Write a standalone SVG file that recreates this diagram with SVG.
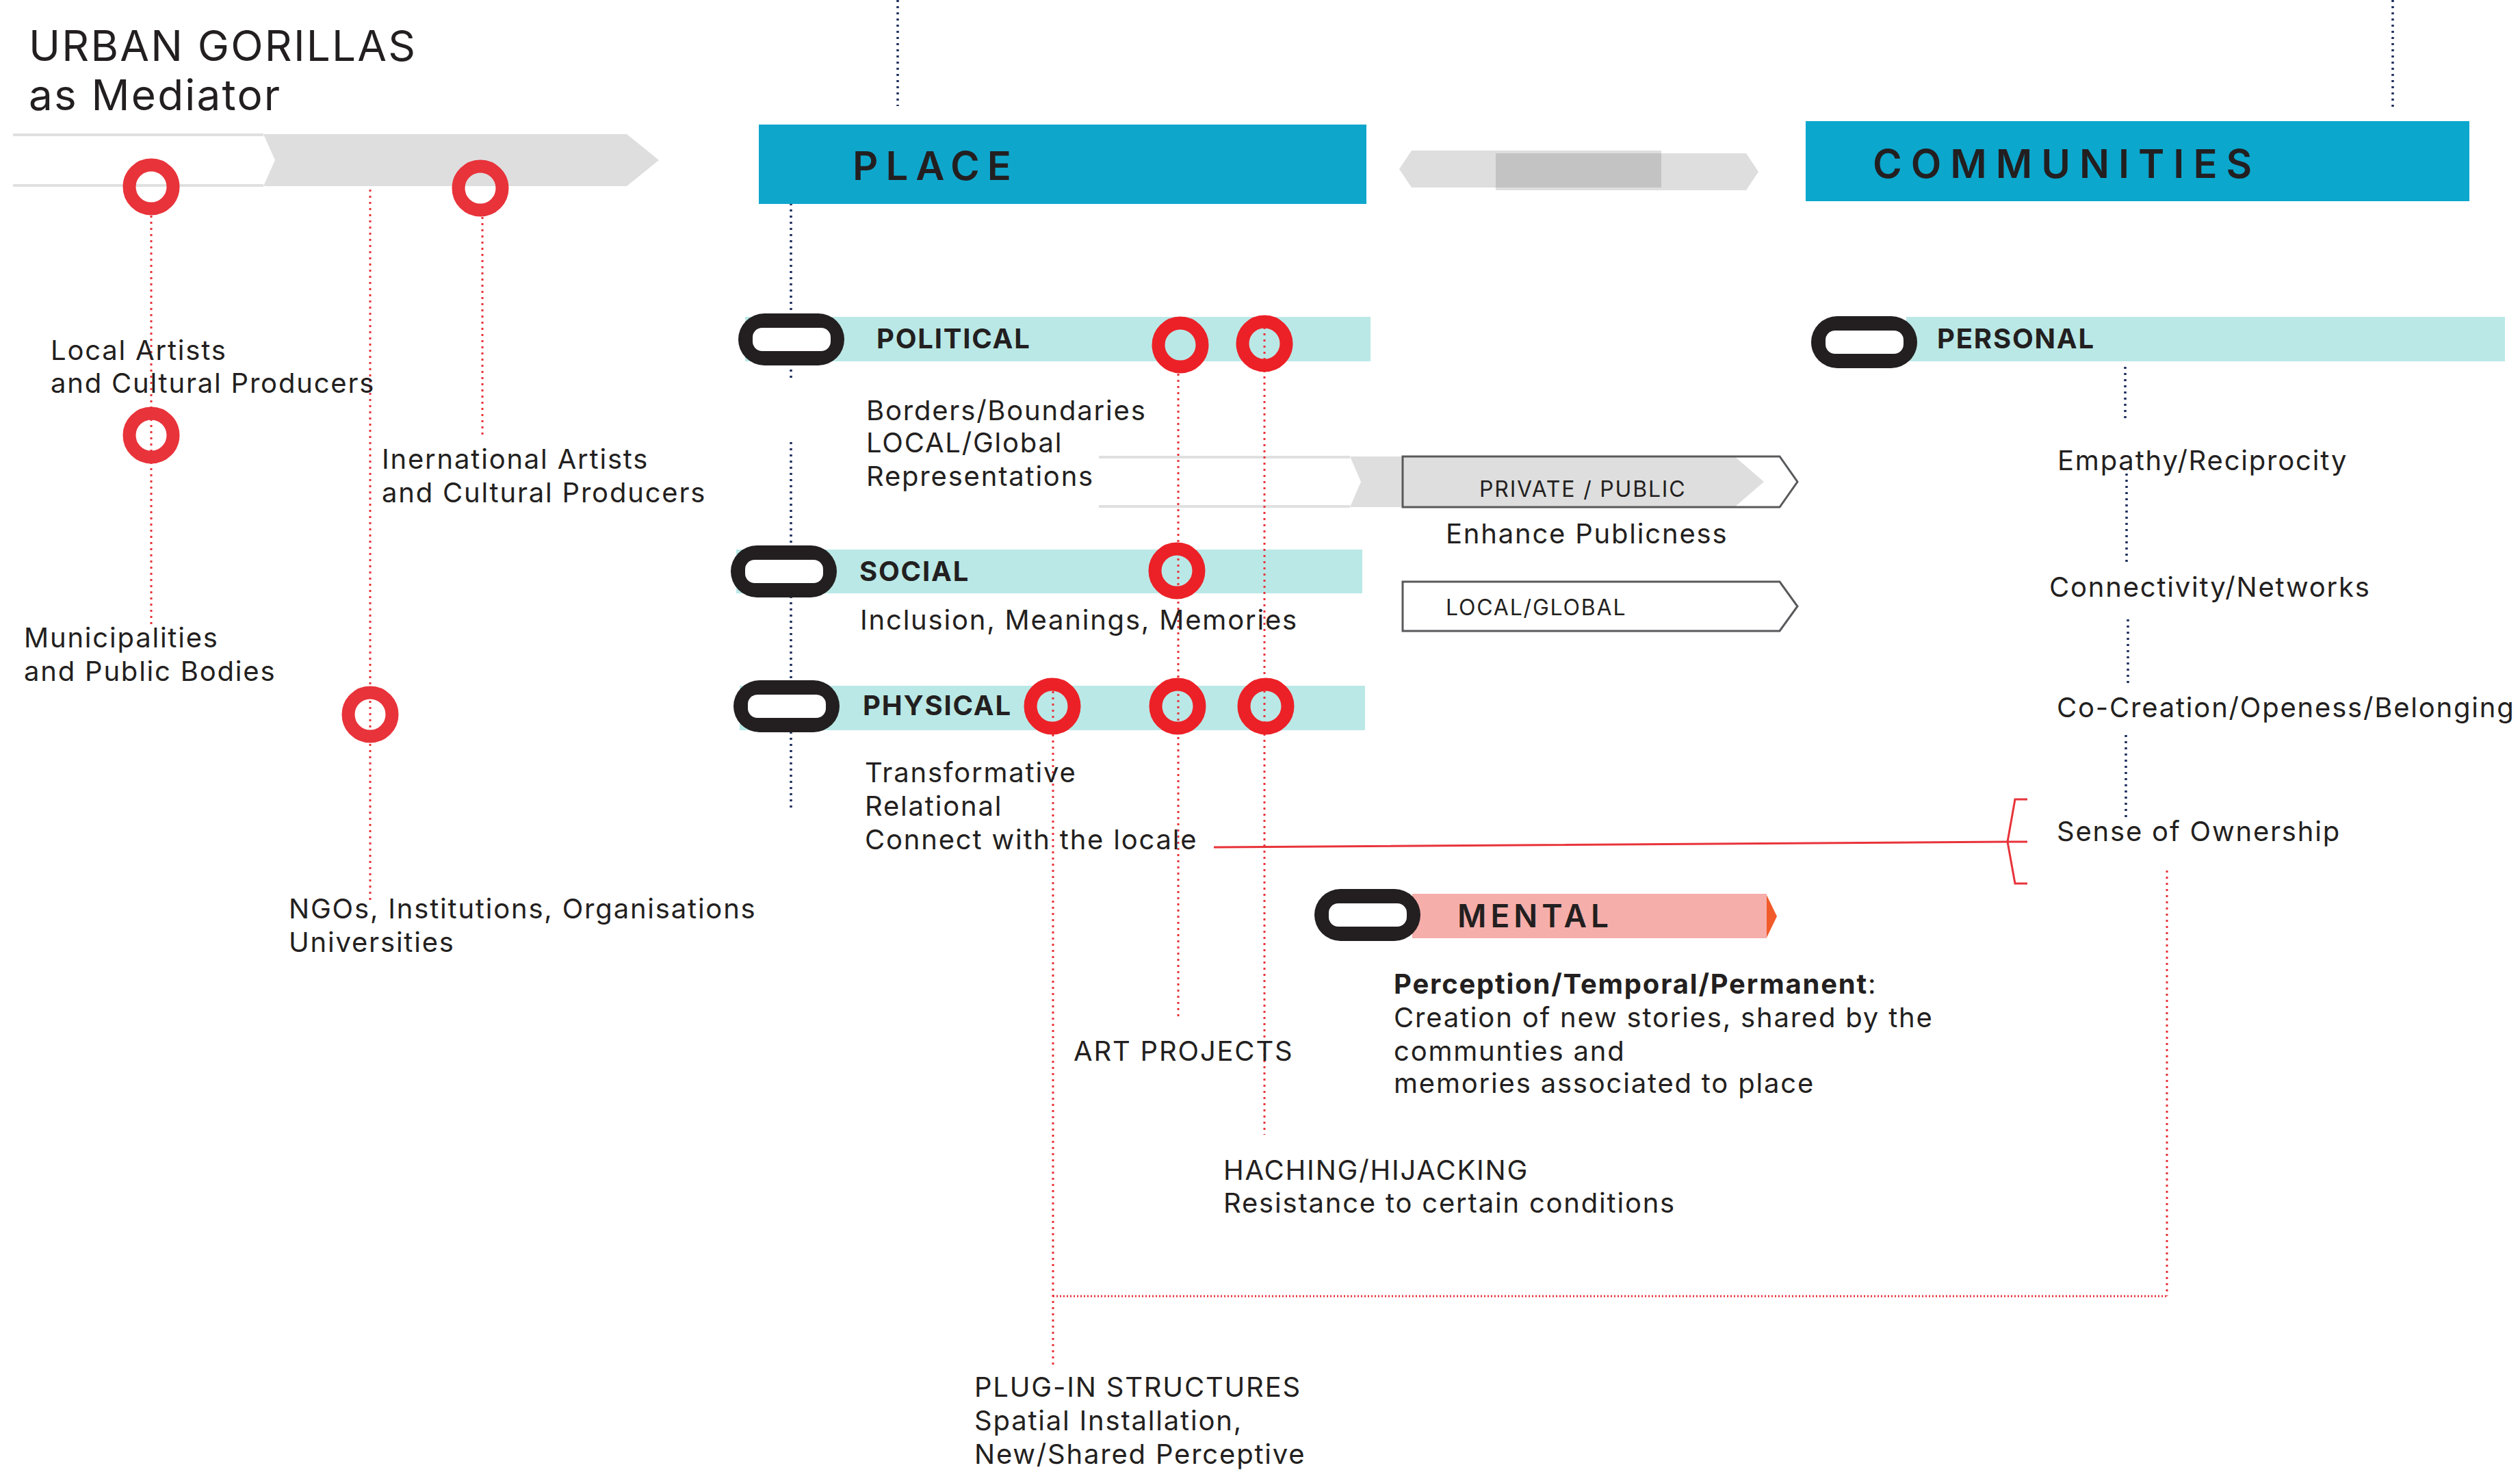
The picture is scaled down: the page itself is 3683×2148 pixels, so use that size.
<svg xmlns="http://www.w3.org/2000/svg" width="3683" height="2148" viewBox="0 0 3683 2148">
<style>
.t{font-family:Inter,"Noto Sans",sans-serif;font-size:40px;fill:#231f20;letter-spacing:1.8px}
.s{font-size:32px}
.h{font-weight:700;letter-spacing:1.8px}
.big{font-size:58px;font-weight:600;letter-spacing:11px}
.bar{fill:#bae8e6}
.rd{stroke:#e8333a;stroke-width:3;stroke-dasharray:3 6;fill:none}
.rdd{stroke:#e8333a;stroke-width:3;stroke-dasharray:2 3;fill:none}
.nv{stroke:#1d2d5c;stroke-width:3.5;stroke-dasharray:3 6;fill:none}
.ring{fill:none;stroke:#ec2127;stroke-width:19}
.ring2{fill:none;stroke:#e8333a;stroke-width:19}
.band{stroke:#e0e0e0;stroke-width:4}
.gray{fill:#dedede}
.out{fill:none;stroke:#58595b;stroke-width:3}
</style>
<defs>
<g id="pill">
<rect x="0" y="0" width="155" height="76" rx="38" fill="#231f20"/>
<rect x="21" y="21" width="114" height="34" rx="14" fill="#fff"/>
</g>
</defs>
<rect width="3683" height="2148" fill="#fff"/>

<g id="title">
<text class="t" x="42" y="89" style="font-size:62px;letter-spacing:2.2px">URBAN GORILLAS</text>
<text class="t" x="42" y="161" style="font-size:62px;letter-spacing:2.2px">as Mediator</text>
</g>

<g id="mediator-band">
<line class="band" x1="19" y1="197" x2="385" y2="197"/>
<line class="band" x1="19" y1="271" x2="385" y2="271"/>
<polygon class="gray" points="385,196 916,196 963,234 916,272 385,272 402,234"/>
</g>

<g id="bars">
<rect class="bar" x="1089" y="463" width="914" height="65"/>
<rect class="bar" x="2786" y="463" width="875" height="65"/>
<rect class="bar" x="1076" y="803" width="915" height="64"/>
<rect class="bar" x="1081" y="1002" width="914" height="65"/>
<rect x="2064" y="1306" width="518" height="65" fill="#f6aeab"/>
<polygon points="2582,1308 2597,1339 2582,1370" fill="#f15a29"/>
</g>

<g id="private-public-band">
<line class="band" x1="1606" y1="668" x2="1973" y2="668"/>
<line class="band" x1="1606" y1="740" x2="1973" y2="740"/>
<polygon class="gray" points="1973,667 2535,667 2578,704 2535,741 1973,741 1989,704"/>
</g>

<g id="connectors">
<line class="nv" x1="1312" y1="0" x2="1312" y2="155"/>
<line class="nv" x1="3497" y1="0" x2="3497" y2="157"/>
<line class="nv" x1="1156" y1="297" x2="1156" y2="556"/>
<line class="nv" x1="1156" y1="646" x2="1156" y2="1186"/>
<line class="nv" x1="3106" y1="536" x2="3106" y2="616"/>
<line class="nv" x1="3108" y1="692" x2="3108" y2="824"/>
<line class="nv" x1="3110" y1="905" x2="3110" y2="1002"/>
<line class="nv" x1="3107" y1="1074" x2="3107" y2="1197"/>
<line class="rd" x1="221" y1="315" x2="221" y2="912"/>
<line class="rd" x1="541" y1="277" x2="541" y2="1316"/>
<line class="rd" x1="705" y1="317" x2="705" y2="635"/>
<line class="rd" x1="1722" y1="537" x2="1722" y2="1491"/>
<line class="rd" x1="1848" y1="478" x2="1848" y2="1658"/>
<line class="rd" x1="1539" y1="1010" x2="1539" y2="1999"/>
<line class="rdd" x1="1539" y1="1894" x2="3167" y2="1894"/>
<line class="rd" x1="3167" y1="1272" x2="3167" y2="1894"/>
<polyline points="1774,1238 2934,1230 2963,1230" fill="none" stroke="#e8333a" stroke-width="3"/>
<path d="M2963,1168 H2945 L2934,1230 L2945,1291 H2963" fill="none" stroke="#e8333a" stroke-width="3"/>
</g>

<g id="mediator-rings">
<circle class="ring2" cx="221" cy="273" r="32"/>
<circle class="ring2" cx="702" cy="275" r="32"/>
<circle class="ring2" cx="221" cy="636" r="32"/>
<circle class="ring2" cx="541" cy="1044" r="32"/>
</g>

<g id="place">
<rect x="1109" y="182" width="888" height="116" fill="#0fa6cc"/>
<text class="t big" x="1246" y="263">PLACE</text>
</g>

<g id="exchange">
<polygon class="gray" points="2045,247 2063,220 2428,220 2428,274 2063,274"/>
<polygon class="gray" points="2186,224 2552,224 2570,251 2552,278 2186,278"/>
<rect x="2186" y="224" width="242" height="50" fill="#c3c3c3"/>
</g>

<g id="communities">
<rect x="2639" y="177" width="970" height="117" fill="#0ba7cd"/>
<text class="t big" x="2737" y="260" style="letter-spacing:13px">COMMUNITIES</text>
</g>

<g id="political">
<use href="#pill" x="1079" y="458"/>
<text class="t h" x="1281" y="509">POLITICAL</text>
<circle class="ring" cx="1725" cy="504" r="32"/>
<circle class="ring" cx="1848" cy="502" r="32"/>
<text class="t" x="1266" y="614">Borders/Boundaries</text>
<text class="t" x="1266" y="661">LOCAL/Global</text>
<text class="t" x="1266" y="710">Representations</text>
</g>

<g id="private-public">
<polygon class="out" points="2050,667 2601,667 2627,704 2601,741 2050,741"/>
<text class="t s" x="2162" y="726">PRIVATE / PUBLIC</text>
<text class="t" x="2113" y="794">Enhance Publicness</text>
</g>

<g id="local-global">
<polygon class="out" points="2050,850 2601,850 2627,886 2601,922 2050,922"/>
<text class="t s" x="2113" y="899">LOCAL/GLOBAL</text>
</g>

<g id="social">
<use href="#pill" x="1068" y="797"/>
<text class="t h" x="1256" y="849">SOCIAL</text>
<circle class="ring" cx="1720" cy="834" r="32"/>
<text class="t" x="1257" y="920">Inclusion, Meanings, Memories</text>
</g>

<g id="physical">
<use href="#pill" x="1072" y="994"/>
<text class="t h" x="1261" y="1045">PHYSICAL</text>
<circle class="ring" cx="1538" cy="1032" r="32"/>
<circle class="ring" cx="1721" cy="1032" r="32"/>
<circle class="ring" cx="1850" cy="1032" r="32"/>
<text class="t" x="1264" y="1143">Transformative</text>
<text class="t" x="1264" y="1192">Relational</text>
<text class="t" x="1264" y="1241">Connect with the locale</text>
</g>

<g id="personal">
<use href="#pill" x="2647" y="462"/>
<text class="t h" x="2831" y="509">PERSONAL</text>
<text class="t" x="3007" y="687">Empathy/Reciprocity</text>
<text class="t" x="2995" y="872">Connectivity/Networks</text>
<text class="t" x="3006" y="1048">Co-Creation/Openess/Belonging</text>
<text class="t" x="3006" y="1229">Sense of Ownership</text>
</g>

<g id="mental">
<use href="#pill" x="1921" y="1299"/>
<text class="t" x="2130" y="1355" style="font-size:46px;font-weight:600;letter-spacing:6px">MENTAL</text>
<text class="t" x="2037" y="1452"><tspan font-weight="700">Perception/Temporal/Permanent</tspan>:</text>
<text class="t" x="2037" y="1501">Creation of new stories, shared by the</text>
<text class="t" x="2037" y="1550">communties and</text>
<text class="t" x="2037" y="1597">memories associated to place</text>
</g>

<g id="labels">
<text class="t" x="74" y="526">Local Artists</text>
<text class="t" x="74" y="574">and Cultural Producers</text>
<text class="t" x="558" y="685">Inernational Artists</text>
<text class="t" x="558" y="734">and Cultural Producers</text>
<text class="t" x="35" y="946">Municipalities</text>
<text class="t" x="35" y="995">and Public Bodies</text>
<text class="t" x="422" y="1342">NGOs, Institutions, Organisations</text>
<text class="t" x="422" y="1391">Universities</text>
<text class="t" x="1569" y="1550">ART PROJECTS</text>
<text class="t" x="1788" y="1724">HACHING/HIJACKING</text>
<text class="t" x="1788" y="1772">Resistance to certain conditions</text>
<text class="t" x="1424" y="2041">PLUG-IN STRUCTURES</text>
<text class="t" x="1424" y="2090">Spatial Installation,</text>
<text class="t" x="1424" y="2139">New/Shared Perceptive</text>
</g>
</svg>
